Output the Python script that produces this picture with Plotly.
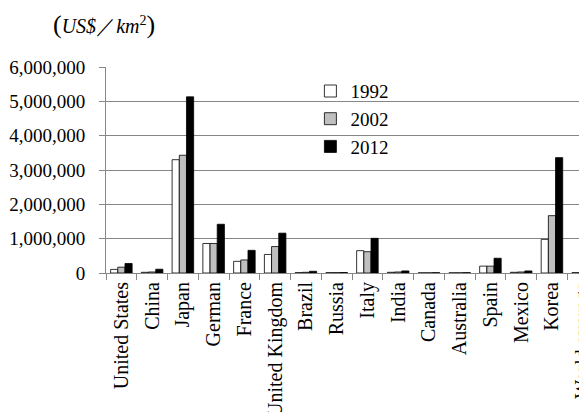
import plotly.graph_objects as go

categories = ["United States", "China", "Japan", "German", "France", "United Kingdom",
              "Brazil", "Russia", "Italy", "India", "Canada", "Australia", "Spain",
              "Mexico", "Korea", "World average"]
v1992 = [105000, 20000, 3300000, 860000, 340000, 540000, 10000, 10000, 650000,
         20000, 5000, 5000, 200000, 20000, 980000, 10000]
v2002 = [170000, 30000, 3430000, 860000, 380000, 770000, 20000, 10000, 620000,
         30000, 5000, 5000, 200000, 30000, 1670000, 15000]
v2012 = [277000, 110000, 5130000, 1420000, 660000, 1160000, 50000, 15000, 1010000,
         60000, 10000, 10000, 430000, 60000, 3360000, 30000]
years = ["1992", "2002", "2012"]
fills = ["#ffffff", "#bfbfbf", "#000000"]
y_ticks = [0, 1000000, 2000000, 3000000, 4000000, 5000000, 6000000]

serif = "Liberation Serif, Times New Roman, serif"

fig = go.Figure()
for name, vals, col in zip(years, [v1992, v2002, v2012], fills):
    fig.add_trace(go.Bar(x=categories, y=vals, name=name,
                         marker=dict(color=col, line=dict(color="#000000", width=0.8))))

fig.update_layout(
    width=587, height=412,
    margin=dict(l=98, r=0, t=59, b=147, autoexpand=False),
    paper_bgcolor="white", plot_bgcolor="white",
    barmode="group", bargap=0.3, bargroupgap=0,
    font=dict(family=serif, color="#000000"),
    showlegend=True,
    legend=dict(x=0.418, y=0.975, xanchor="left", yanchor="top",
                font=dict(size=19, family=serif), bgcolor="rgba(0,0,0,0)",
                itemwidth=30, tracegroupgap=0),
    xaxis=dict(range=[-0.5, 15.4], tickangle=-90, tickfont=dict(size=20, family=serif),
               ticks="outside", tickson="boundaries", ticklen=6, tickcolor="#868686",
               showline=True, linecolor="#868686", linewidth=1, showgrid=False,
               automargin=False),
    yaxis=dict(range=[0, 6000000], tickvals=y_ticks,
               ticktext=[f"{v:,}" for v in y_ticks],
               tickfont=dict(size=19, family=serif),
               showgrid=True, gridcolor="#868686", gridwidth=1,
               showline=True, linecolor="#868686", linewidth=1,
               ticks="outside", ticklen=6, tickcolor="#868686", zeroline=False,
               ticklabelstandoff=10, automargin=False),
)

fig.add_annotation(
    xref="paper", yref="paper", x=0.0, y=1.0, yshift=43, xshift=-2, xanchor="center", yanchor="middle",
    text="<span style='font-size:26px'>(</span><i>US$</i>／<i>km</i><sup>2</sup><span style='font-size:26px'>)</span>",
    showarrow=False, font=dict(size=20, family=serif, color="#000000"))

fig.write_html("out.html")
